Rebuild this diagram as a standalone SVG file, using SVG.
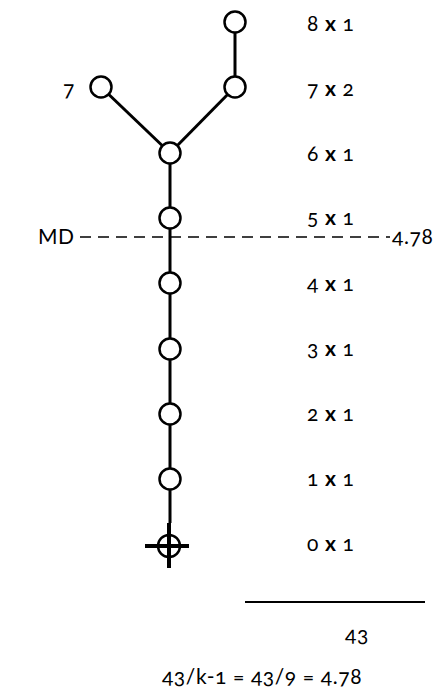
<svg xmlns="http://www.w3.org/2000/svg" width="444" height="690" viewBox="0 0 444 690">
<style>
.n{fill:#fff;stroke:#000;stroke-width:2.5}
.e{stroke:#000;stroke-width:3;fill:none}
.t{font-family:Lato,"Open Sans",sans-serif;font-size:21px;fill:#000;font-variant-numeric:oldstyle-nums;letter-spacing:0.6px}
.x{font-weight:bold}
</style>
<rect width="444" height="690" fill="#fff"/>
<g id="connectors">
<line class="e" x1="235" y1="22" x2="235" y2="87"/>
<line class="e" x1="235" y1="87" x2="170" y2="153"/>
<line class="e" x1="101" y1="87" x2="170" y2="153"/>
<line class="e" x1="170" y1="153" x2="170" y2="523"/>
<line stroke="#000" stroke-width="1.6" stroke-dasharray="11,7" x1="80" y1="237" x2="390" y2="237"/>
</g>
<g id="n8"><circle class="n" cx="235" cy="22" r="10.5"/><text class="t" x="307" y="31">8 <tspan class="x">x</tspan> 1</text></g>
<g id="n7r"><circle class="n" cx="235" cy="87" r="10.5"/><text class="t" x="307" y="96">7 <tspan class="x">x</tspan> 2</text></g>
<g id="n7l"><circle class="n" cx="101" cy="87" r="10.5"/><text class="t" x="63" y="96">7</text></g>
<g id="n6"><circle class="n" cx="170" cy="153" r="10.5"/><text class="t" x="307" y="161">6 <tspan class="x">x</tspan> 1</text></g>
<g id="n5"><circle class="n" cx="170" cy="218" r="10.5"/><text class="t" x="307" y="225">5 <tspan class="x">x</tspan> 1</text></g>
<g id="n4"><circle class="n" cx="170" cy="283" r="10.5"/><text class="t" x="307" y="291">4 <tspan class="x">x</tspan> 1</text></g>
<g id="n3"><circle class="n" cx="170" cy="349" r="10.5"/><text class="t" x="307" y="356">3 <tspan class="x">x</tspan> 1</text></g>
<g id="n2"><circle class="n" cx="170" cy="414" r="10.5"/><text class="t" x="307" y="421">2 <tspan class="x">x</tspan> 1</text></g>
<g id="n1"><circle class="n" cx="170" cy="479" r="10.5"/><text class="t" x="307" y="486">1 <tspan class="x">x</tspan> 1</text></g>
<g id="n0">
<circle cx="169" cy="546" r="11" fill="none" stroke="#000" stroke-width="2.5"/>
<line stroke="#000" stroke-width="4" x1="169" y1="523" x2="169" y2="568"/>
<line stroke="#000" stroke-width="4" x1="145" y1="546" x2="189" y2="546"/>
<text class="t" x="307" y="551">0 <tspan class="x">x</tspan> 1</text>
</g>
<g id="md">
<text class="t" x="38" y="244">MD</text>
<text class="t" x="392" y="244">4.78</text>
</g>
<g id="sum">
<line stroke="#000" stroke-width="2" x1="245" y1="602" x2="425" y2="602"/>
<text class="t" x="357" y="642" text-anchor="middle">43</text>
<text class="t" x="262" y="684" text-anchor="middle">43/k-1 = 43/9 = 4.78</text>
</g>
</svg>
